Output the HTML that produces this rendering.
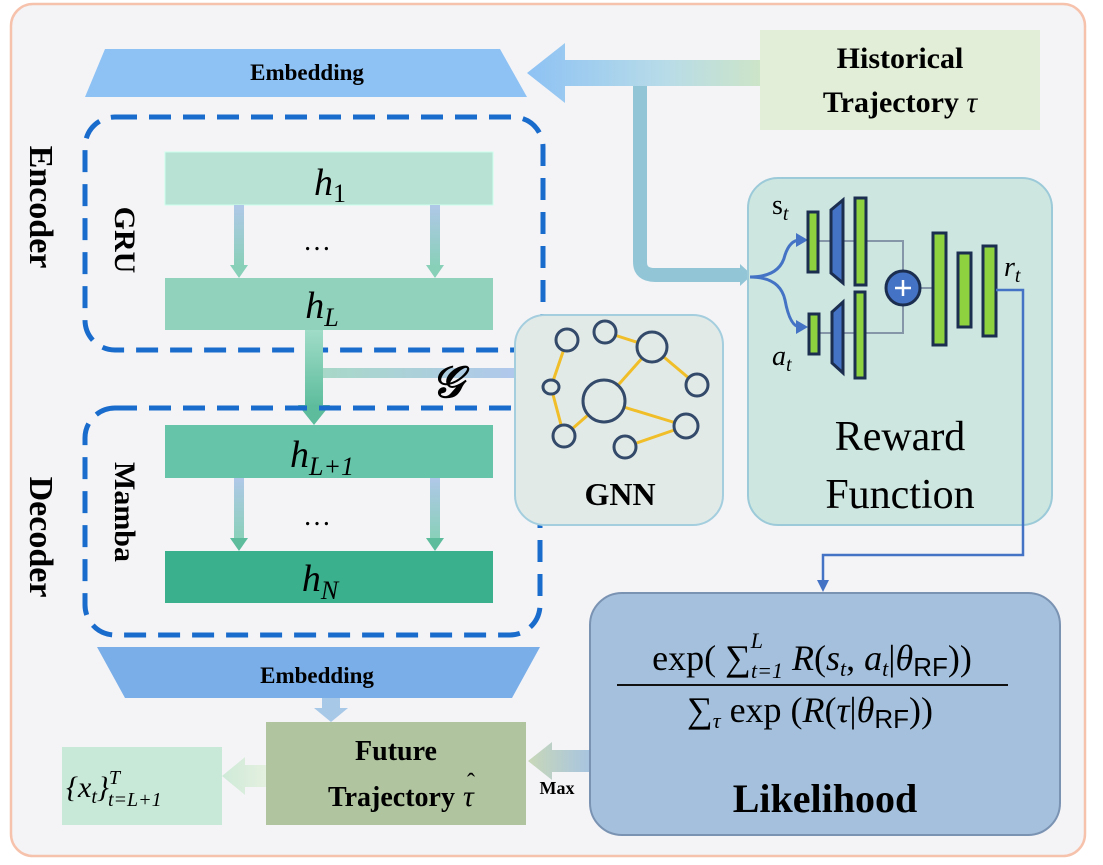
<!DOCTYPE html>
<html><head><meta charset="utf-8"><style>
html,body{margin:0;padding:0;background:#fff}
svg{display:block}
text{font-family:"Liberation Serif",serif}
</style></head><body>
<svg width="1103" height="865" viewBox="0 0 1103 865" xmlns="http://www.w3.org/2000/svg">
<defs>
<linearGradient id="gTop" x1="0" x2="1"><stop offset="0" stop-color="#8ec2f4"/><stop offset="0.6" stop-color="#b8dce8"/><stop offset="1" stop-color="#cce4c8"/></linearGradient>
<linearGradient id="gDown" x1="0" y1="0" x2="0" y2="1"><stop offset="0" stop-color="#a0dcc8"/><stop offset="1" stop-color="#5cbc9c"/></linearGradient>
<linearGradient id="gArr" x1="0" y1="0" x2="0" y2="1"><stop offset="0" stop-color="#b0c8e8"/><stop offset="1" stop-color="#88d0b8"/></linearGradient>
<linearGradient id="gMax" x1="0" x2="1"><stop offset="0" stop-color="#c8d8b8"/><stop offset="1" stop-color="#a8c4e0"/></linearGradient>
<linearGradient id="gOut" x1="0" x2="1"><stop offset="0" stop-color="#cfead8"/><stop offset="1" stop-color="#e4f0e0"/></linearGradient>
<linearGradient id="gG" x1="0" x2="1"><stop offset="0" stop-color="#a8d8c8"/><stop offset="1" stop-color="#b0c8ec"/></linearGradient>
</defs>
<rect x="11" y="4" width="1074" height="852" rx="22" fill="#f4f4f7" stroke="#f6c2ac" stroke-width="2.5"/>

<!-- historical -->
<rect x="760" y="30" width="280" height="100" fill="#e2eed8"/>
<text x="900" y="68" font-size="30" font-weight="bold" text-anchor="middle">Historical</text>
<text x="900" y="112" font-size="30" font-weight="bold" text-anchor="middle">Trajectory <tspan font-style="italic" font-weight="normal">τ</tspan></text>
<!-- top arrow -->
<polygon points="760,60 565,60 565,43 527,73 565,103 565,86 760,86" fill="url(#gTop)"/>
<path d="M640 86 V262 Q640 275 655 275 H742" fill="none" stroke="#92c6d6" stroke-width="14"/>
<polygon points="740,264 752,275 740,286" fill="#92c6d6"/>

<!-- top embedding -->
<polygon points="105,49 500,49 527,97 85,97" fill="#8ec2f4"/>
<text x="307" y="80" font-size="23" font-weight="bold" text-anchor="middle">Embedding</text>

<!-- encoder -->
<rect x="85" y="117" width="458" height="233" rx="30" fill="none" stroke="#1a6ccc" stroke-width="5" stroke-dasharray="22,12"/>
<text transform="translate(30,207) rotate(90)" font-size="34" font-weight="bold" text-anchor="middle">Encoder</text>
<text transform="translate(115,240) rotate(90)" font-size="30" font-weight="bold" text-anchor="middle">GRU</text>
<rect x="165" y="152" width="328" height="53" fill="#b8e2d4" stroke="#cfe" />
<text x="330" y="195" font-size="38" font-style="italic" text-anchor="middle">h<tspan font-size="26" font-style="normal" dy="7">1</tspan></text>
<rect x="234" y="205" width="10" height="62" fill="url(#gArr)"/><polygon points="230,265 248,265 239,278" fill="#88d0b8"/>
<rect x="430" y="205" width="10" height="62" fill="url(#gArr)"/><polygon points="426,265 444,265 435,278" fill="#88d0b8"/>
<text x="317" y="250" font-size="28" text-anchor="middle">…</text>
<rect x="165" y="278" width="328" height="52" fill="#90d2bc"/>
<text x="322" y="318" font-size="38" font-style="italic" text-anchor="middle">h<tspan font-size="26" dy="8">L</tspan></text>

<!-- connector down + G -->
<rect x="305" y="330" width="18" height="78" fill="url(#gDown)"/>
<polygon points="298,405 330,405 314,425" fill="#5cbc9c"/>
<rect x="323" y="368" width="192" height="10" fill="url(#gG)"/>
<text x="447" y="397" font-size="44" font-weight="bold" font-style="italic" text-anchor="middle">𝒢</text>

<!-- decoder -->
<rect x="85" y="408" width="455" height="227" rx="30" fill="none" stroke="#1a6ccc" stroke-width="5" stroke-dasharray="22,12"/>
<text transform="translate(30,537) rotate(90)" font-size="34" font-weight="bold" text-anchor="middle">Decoder</text>
<text transform="translate(115,512) rotate(90)" font-size="30" font-weight="bold" text-anchor="middle">Mamba</text>
<rect x="165" y="425" width="328" height="53" fill="#66c4a8"/>
<text x="322" y="467" font-size="38" font-style="italic" text-anchor="middle">h<tspan font-size="26" dy="8">L+1</tspan></text>
<rect x="234" y="478" width="10" height="62" fill="url(#gArr)"/><polygon points="230,538 248,538 239,551" fill="#5cbc9c"/>
<rect x="430" y="478" width="10" height="62" fill="url(#gArr)"/><polygon points="426,538 444,538 435,551" fill="#5cbc9c"/>
<text x="317" y="525" font-size="28" text-anchor="middle">…</text>
<rect x="165" y="551" width="328" height="52" fill="#3ab08c"/>
<text x="320" y="591" font-size="38" font-style="italic" text-anchor="middle">h<tspan font-size="26" dy="8">N</tspan></text>

<!-- bottom embedding -->
<polygon points="97,647 540,647 512,698 125,698" fill="#7aaee8"/>
<text x="317" y="683" font-size="23" font-weight="bold" text-anchor="middle">Embedding</text>
<rect x="322" y="698" width="18" height="14" fill="#a8c8e8"/>
<polygon points="314,708 348,708 331,722" fill="#a8c8e8"/>

<!-- future -->
<rect x="266" y="722" width="260" height="103" fill="#b0c4a0"/>
<text x="396" y="760" font-size="28" font-weight="bold" text-anchor="middle">Future</text>
<text x="455" y="806" font-size="28" font-weight="bold" text-anchor="end">Trajectory</text>
<text x="463" y="806" font-size="30" font-style="italic">τ</text>
<text x="467" y="790" font-size="24">ˆ</text>
<polygon points="266,765 245,765 245,757 222,776 245,795 245,787 266,787" fill="url(#gOut)"/>
<rect x="62" y="747" width="160" height="78" fill="#c8e8d8"/>
<text x="66" y="797" font-size="30" font-style="italic">{x<tspan font-size="20" dy="6">t</tspan><tspan dy="-6">}</tspan><tspan font-size="20" dy="-13">T</tspan><tspan font-size="20" dx="-12" dy="22">t=L+1</tspan></text>
<polygon points="590,750 552,750 552,742 528,761 552,780 552,772 590,772" fill="url(#gMax)"/>
<text x="557" y="794" font-size="18" font-weight="bold" text-anchor="middle">Max</text>

<!-- likelihood -->
<rect x="590" y="593" width="470" height="242" rx="32" fill="#a4c0dc" stroke="#7b93b3" stroke-width="2"/>
<text x="812" y="670" font-size="36" text-anchor="middle">exp( ∑<tspan font-size="22" font-style="italic" dy="-22">L</tspan><tspan font-size="22" font-style="italic" dx="-12" dy="30">t=1</tspan><tspan dy="-8"> </tspan><tspan font-style="italic">R</tspan>(<tspan font-style="italic">s<tspan font-size="22" dy="6">t</tspan></tspan><tspan dy="-6">, </tspan><tspan font-style="italic">a<tspan font-size="22" dy="6">t</tspan></tspan><tspan dy="-6">|</tspan><tspan font-style="italic">θ</tspan><tspan font-family="Liberation Sans" font-size="26" dy="6">RF</tspan><tspan dy="-6">))</tspan></text>
<line x1="617" y1="685" x2="1008" y2="685" stroke="#111" stroke-width="2"/>
<text x="810" y="722" font-size="36" text-anchor="middle">∑<tspan font-size="22" font-style="italic" dy="6">τ</tspan><tspan dy="-6"> exp (</tspan><tspan font-style="italic">R</tspan>(<tspan font-style="italic">τ</tspan>|<tspan font-style="italic">θ</tspan><tspan font-family="Liberation Sans" font-size="26" dy="6">RF</tspan><tspan dy="-6">))</tspan></text>
<text x="825" y="812" font-size="40" font-weight="bold" text-anchor="middle">Likelihood</text>

<!-- GNN -->
<rect x="515" y="315" width="208" height="210" rx="30" fill="#e2eae8" stroke="#a4cede" stroke-width="2"/>
<g stroke="#f0be28" stroke-width="3">
<line x1="567" y1="340" x2="551" y2="387"/><line x1="551" y1="387" x2="564" y2="436"/>
<line x1="564" y1="436" x2="604" y2="401"/><line x1="604" y1="401" x2="652" y2="347"/>
<line x1="605" y1="332" x2="652" y2="347"/><line x1="652" y1="347" x2="697" y2="385"/>
<line x1="604" y1="401" x2="686" y2="426"/><line x1="686" y1="426" x2="625" y2="447"/>
</g>
<g stroke="#344a6a" stroke-width="3" fill="#e2eae8">
<circle cx="567" cy="340" r="11"/><circle cx="605" cy="332" r="11"/><circle cx="652" cy="347" r="15"/>
<ellipse cx="551" cy="387" rx="8" ry="7"/><circle cx="604" cy="401" r="21"/><circle cx="697" cy="385" r="11"/>
<circle cx="564" cy="436" r="11"/><circle cx="686" cy="426" r="12"/><circle cx="625" cy="447" r="11"/>
</g>
<text x="620" y="505" font-size="32" font-weight="bold" text-anchor="middle">GNN</text>

<!-- reward -->
<rect x="748" y="178" width="304" height="347" rx="30" fill="#cde6e0" stroke="#9ccad8" stroke-width="2"/>
<path d="M750 277 Q780 277 785 255 Q790 240 800 240" fill="none" stroke="#4472c4" stroke-width="3"/>
<path d="M750 277 Q780 277 785 300 Q790 327 800 327" fill="none" stroke="#4472c4" stroke-width="3"/>
<polygon points="796,233 808,240 796,247" fill="#4472c4"/><polygon points="796,320 808,327 796,334" fill="#4472c4"/>
<g stroke="#8496a8" stroke-width="2" fill="none">
<polyline points="818,241 903,241 903,271"/><polyline points="818,333 903,333 903,305"/><line x1="920" y1="288" x2="933" y2="288"/>
</g>
<g stroke="#1c2e50" stroke-width="3">
<rect x="808" y="212" width="10" height="60" fill="#8ed240"/>
<polygon points="843,200 843,283 831,273 831,210" fill="#4472c4"/>
<rect x="855" y="198" width="11" height="87" fill="#8ed240"/>
<rect x="809" y="314" width="10" height="40" fill="#8ed240"/>
<polygon points="843,302 843,373 832,363 832,312" fill="#4472c4"/>
<rect x="855" y="292" width="10" height="86" fill="#8ed240"/>
<circle cx="903" cy="288" r="17" fill="#4472c4"/>
<rect x="933" y="233" width="13" height="112" fill="#8ed240"/>
<rect x="958" y="253" width="13" height="74" fill="#8ed240"/>
<rect x="983" y="246" width="13" height="90" fill="#8ed240"/>
</g>
<path d="M895 288 H911 M903 280 V296" stroke="#fff" stroke-width="2.5"/>
<text x="772" y="214" font-size="28">s<tspan font-size="20" font-style="italic" dy="6">t</tspan></text>
<text x="772" y="365" font-size="28" font-style="italic">a<tspan font-size="20" dy="6">t</tspan></text>
<text x="1004" y="276" font-size="28" font-style="italic">r<tspan font-size="20" dy="6">t</tspan></text>
<polyline points="996,290 1023,290 1023,555 823,555 823,583" fill="none" stroke="#4472c4" stroke-width="2.5"/>
<polygon points="817,580 829,580 823,592" fill="#4472c4"/>
<text x="900" y="450" font-size="42" text-anchor="middle">Reward</text>
<text x="900" y="508" font-size="42" text-anchor="middle">Function</text>
</svg>
</body></html>
